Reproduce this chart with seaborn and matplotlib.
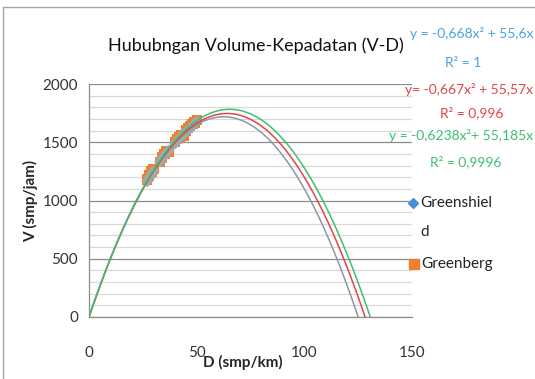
import numpy as np
import pandas as pd
import matplotlib
matplotlib.use("Agg")
import matplotlib.pyplot as plt
from matplotlib.lines import Line2D
from matplotlib.patches import Rectangle
import seaborn as sns

# Observed density (smp/km) and volume (smp/jam)
density = [27, 28, 29, 30, 33, 34, 35, 36, 37, 40, 41, 42, 43, 44, 45, 46, 47, 48, 49, 50]
volume_greenshield = [1165, 1195, 1225, 1255, 1335, 1360, 1385, 1410, 1430,
                      1490, 1510, 1535, 1550, 1570, 1590, 1605, 1620, 1640, 1660, 1680]
volume_greenberg = [1180, 1215, 1250, 1270, 1330, 1370, 1400, 1420, 1420,
                    1500, 1525, 1545, 1565, 1555, 1600, 1620, 1640, 1655, 1670, 1690]

# Quadratic trend curves through the origin: V = a*D^2 + b*D
trend_names = ["Greenshield", "Greenberg", "Underwood"]
trend_a = [-0.440, -0.425, -0.418]
trend_b = [55.0, 54.5, 54.6]
trend_colors = ["#8c96a8", "#e0454a", "#3cc071"]

equation_texts = ["y = -0,668x² + 55,6x", "R² = 1",
                  "y= -0,667x² + 55,57x", "R² = 0,996",
                  "y = -0,6238x²+ 55,185x", "R² = 0,9996"]

x_ticks = [0, 50, 100, 150]
y_ticks = [0, 500, 1000, 1500, 2000]

sns.set_style("white")
plt.rcParams["font.family"] = ["Lato", "DejaVu Sans"]

W, H = 535, 379
fig = plt.figure(figsize=(W / 100, H / 100), dpi=100)
ax = fig.add_axes([89 / W, 1 - 317 / H, (412 - 89) / W, (317 - 84) / H])


def fx(px):
    return px / W


def fy(py):
    return 1 - py / H


# chart frame
fig.patches.append(Rectangle((fx(3), -0.01), 1.0, fy(7) + 0.01,
                             transform=fig.transFigure, fill=False,
                             edgecolor="#a6a6a6", linewidth=1.0))

# gridlines
for v in range(0, 2001, 100):
    major = v % 500 == 0
    ax.axhline(v, color="#8c8c8c" if major else "#d9d9d9",
               linewidth=0.9, zorder=0)

# trend curves
curve_frames = []
for name, a, b in zip(trend_names, trend_a, trend_b):
    x = np.linspace(0, -b / a, 300)
    curve_frames.append(pd.DataFrame({"D": x, "V": a * x ** 2 + b * x, "series": name}))
curves = pd.concat(curve_frames, ignore_index=True)
sns.lineplot(data=curves, x="D", y="V", hue="series", palette=trend_colors,
             linewidth=1.1, legend=False, ax=ax, zorder=3, sort=False)

# observed points
obs = pd.DataFrame({"D": density, "Vgs": volume_greenshield, "Vgb": volume_greenberg})
sns.scatterplot(data=obs, x="D", y="Vgb", marker="s", s=55, color="#f07f2c",
                edgecolor="none", ax=ax, zorder=2)
sns.scatterplot(data=obs, x="D", y="Vgs", marker="D", s=38, color="#a6a6a6",
                edgecolor="none", ax=ax, zorder=2.5)

ax.set_xlim(0, 150)
ax.set_ylim(0, 2000)
ax.set_xticks(x_ticks)
ax.set_yticks(y_ticks)
ax.set_xticklabels([str(t) for t in x_ticks])
ax.set_yticklabels([str(t) for t in y_ticks])
ax.tick_params(axis="x", length=6, width=0.9, color="#8c8c8c", pad=15,
               labelsize=11, labelcolor="#333333", direction="out")
ax.tick_params(axis="y", length=5, width=0.9, color="#8c8c8c", pad=3,
               labelsize=11, labelcolor="#333333", direction="out")
for side in ["top", "right"]:
    ax.spines[side].set_visible(False)
for side in ["left", "bottom"]:
    ax.spines[side].set_color("#8c8c8c")
    ax.spines[side].set_linewidth(0.9)

ax.set_xlabel("D (smp/km)", fontsize=11, fontweight="bold", labelpad=-4)
ax.xaxis.label.set_x((243 - 89) / (412 - 89))
ax.set_ylabel("V (smp/jam)", fontsize=11, fontweight="bold", labelpad=3)

fig.text(fx(256), fy(46), "Hububngan Volume-Kepadatan (V-D)",
         ha="center", va="center", fontsize=13, color="#111111")

# trendline equations
eq_pos = [(533, 34, "right"), (463, 63, "center"), (533, 90, "right"),
          (472, 113, "center"), (533, 136, "right"), (466, 162, "center")]
eq_cols = ["#4aa3df", "#4aa3df", "#e0454a", "#e0454a", "#3cc071", "#3cc071"]
for txt, (px, py, ha), c in zip(equation_texts, eq_pos, eq_cols):
    fig.text(fx(px), fy(py), txt, ha=ha, va="center", fontsize=10, color=c)

# legend
fig.add_artist(Line2D([fx(413)], [fy(203)], marker="D", linestyle="none",
                      color="#4a90d9", markersize=5.5, transform=fig.transFigure))
fig.add_artist(Line2D([fx(414)], [fy(264)], marker="s", linestyle="none",
                      color="#f07f2c", markersize=7.5, transform=fig.transFigure))
fig.text(fx(420), fy(203), "Greenshiel", ha="left", va="center", fontsize=11,
         color="#222222")
fig.text(fx(420), fy(232), "d", ha="left", va="center", fontsize=11,
         color="#222222")
fig.text(fx(421), fy(264), "Greenberg", ha="left", va="center", fontsize=11,
         color="#222222")

fig.savefig("out.png", dpi=100)
